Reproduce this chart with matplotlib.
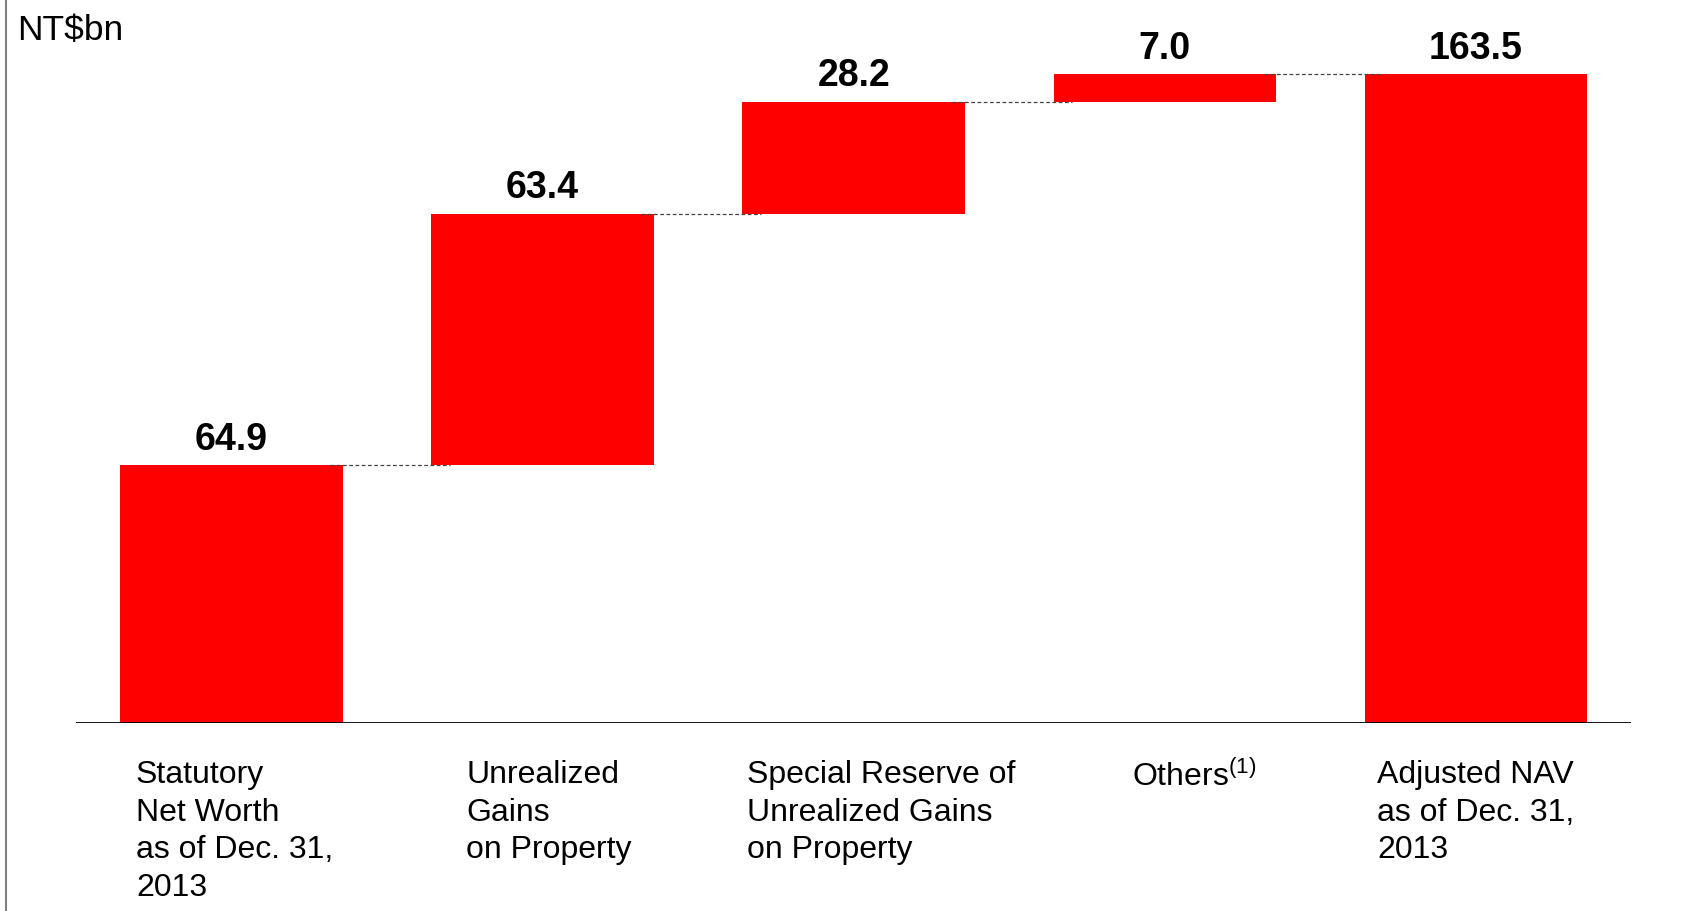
"""Waterfall: statutory net worth to adjusted NAV (NT$bn)."""

import matplotlib

matplotlib.use("Agg")
import matplotlib.pyplot as plt
import numpy as np
from matplotlib.lines import Line2D

plt.rcParams["font.family"] = ["Liberation Sans", "DejaVu Sans"]
plt.rcParams["mathtext.fontset"] = "custom"
plt.rcParams["mathtext.rm"] = "Liberation Sans"

# --- data ---
categories = [
    "Statutory\nNet Worth\nas of Dec. 31,\n2013",
    "Unrealized\nGains\non Property",
    "Special Reserve of\nUnrealized Gains\non Property",
    r"Others$^{\mathregular{(1)}}$",
    "Adjusted NAV\nas of Dec. 31,\n2013",
]
values = [64.9, 63.4, 28.2, 7.0, 163.5]
is_total = [True, False, False, False, True]
value_labels = ["64.9", "63.4", "28.2", "7.0", "163.5"]

RED = "#FF0000"
BAR_W = 0.715
# small horizontal nudges of the category text blocks (data units)
LABEL_DX = [0.01, 0.02, 0.09, 0.094, 0.0]

# running bottoms / tops
bottoms = []
running = 0.0
for v, tot in zip(values, is_total):
    if tot:
        bottoms.append(0.0)
        running = v
    else:
        bottoms.append(running)
        running += v
tops = [b + v for b, v in zip(bottoms, values)]

fig = plt.figure(figsize=(16.92, 9.12), dpi=100)
ax = fig.add_axes([0.0449, 0.2066, 0.9193, 0.783])

x = np.arange(len(values))
ax.bar(x, values, bottom=bottoms, width=BAR_W, color=RED, zorder=2)

# dashed connectors between consecutive bars
for i in range(len(values) - 1):
    level = tops[i]
    x0 = x[i] + BAR_W / 2 - 0.04
    x1 = x[i + 1] - BAR_W / 2 + 0.06
    ax.plot([x0, x1], [level, level], color="#444444", lw=0.9,
            linestyle=(0, (3, 2)), zorder=3)

# value labels
for i, lab in enumerate(value_labels):
    ax.text(x[i], tops[i] + 4.1, lab, ha="center", va="baseline",
            fontsize=27, fontweight="bold", color="black")

# category labels under the axis
for i, cat in enumerate(categories):
    ax.text(x[i] + LABEL_DX[i], -9.2, cat, ha="center", va="top",
            multialignment="left", fontsize=23, linespacing=1.33,
            clip_on=False)

ax.set_xlim(-0.5, 4.5)
ax.set_ylim(0, 180)
ax.axhline(0, color="black", lw=2.0, zorder=4)
for s in ax.spines.values():
    s.set_visible(False)
ax.set_xticks([])
ax.set_yticks([])

fig.text(0.01, 1 - 31 / 912, "NT$bn", fontsize=25.5, va="center", ha="left")
fig.add_artist(Line2D([0.0038, 0.0038], [0, 1], transform=fig.transFigure,
                      color="#808080", lw=1.5))

fig.savefig("out.png", dpi=100)
